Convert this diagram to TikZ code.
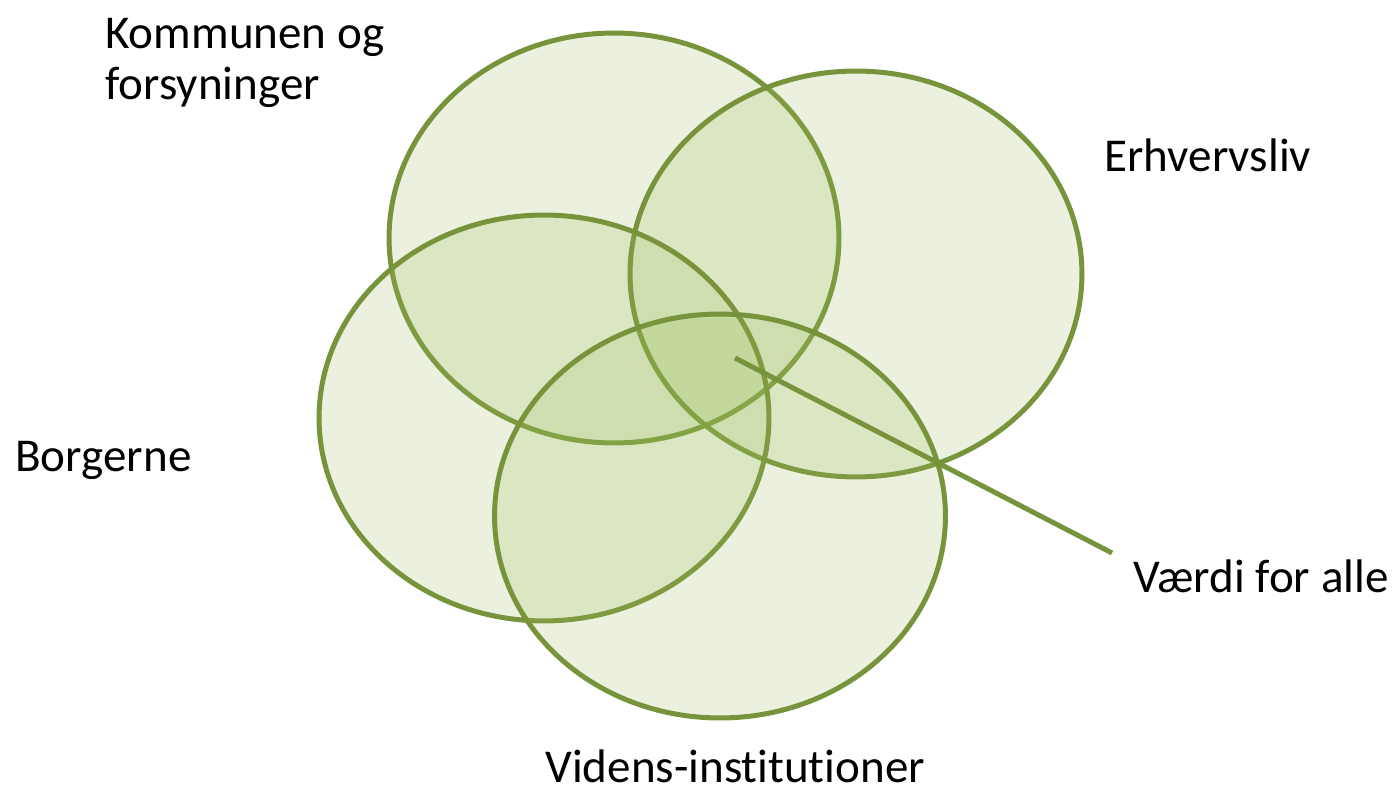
\documentclass[tikz,border=0pt]{standalone}
\usepackage{fontspec}
\setmainfont{Carlito}[Ligatures=NoCommon]
\usetikzlibrary{shapes.geometric}
\definecolor{olivefill}{RGB}{155,187,89}
\definecolor{oliveline}{RGB}{119,147,60}
\tikzstyle{venn} = [ellipse, draw=oliveline, line width=0.1cm, fill=olivefill, fill opacity=0.2, draw opacity=1, inner sep=0pt]
\tikzstyle{vtext} = [anchor=base west, inner sep=0pt, align=left, font=\fontsize{26.8}{29.5}\selectfont]
\tikzstyle{pointer} = [draw=oliveline, line width=0.1cm]

\begin{document}
\begin{tikzpicture}[x=0.02cm, y=-0.02cm]
\useasboundingbox (0,0) rectangle (1396,790);
% four overlapping ellipses
\node (kommune) [venn, minimum width=9.0cm, minimum height=8.2cm] at (614,238) {};
\node (erhverv) [venn, minimum width=9.04cm, minimum height=8.12cm] at (856,274) {};
\node (borger) [venn, minimum width=9.0cm, minimum height=8.12cm] at (544,418) {};
\node (viden) [venn, minimum width=9.02cm, minimum height=8.08cm] at (720,516) {};

% labels
\node (tkommune) [vtext] at (105,100) {Kommunen og\\forsyninger};
\node (terhverv) [vtext] at (1104,172) {Erhvervsliv};
\node (tborger) [vtext] at (15,471) {Borgerne};
\node (tvaerdi) [vtext] at (1133,592) {Værdi for alle};
\node (tviden) [vtext] at (545,782) {Videns-institutioner};

% pointer to the common area
\coordinate (core) at (735,358);
\coordinate (lineend) at (1112,553);
\draw [pointer] (core) -- (lineend);
\end{tikzpicture}
\end{document}
